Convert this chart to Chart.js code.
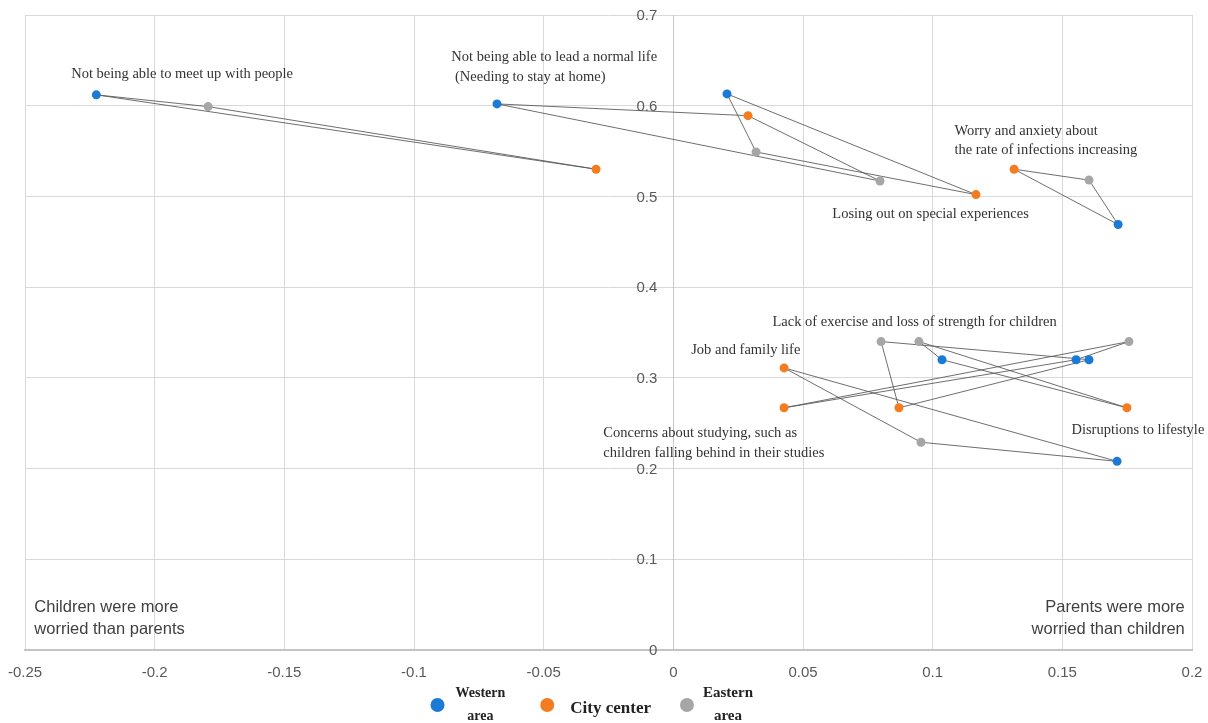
<!DOCTYPE html>
<html>
<head>
<meta charset="utf-8">
<script src="https://cdn.jsdelivr.net/npm/chart.js@4.4.0/dist/chart.umd.min.js"></script>
<style>
  html, body { margin: 0; padding: 0; background: #fff; }
  #wrap { width: 1208px; height: 723px; }
</style>
</head>
<body>
<div id="wrap"><canvas id="chart" width="1208" height="723"></canvas></div>
<script>
(function () {

  // one entry per worry item; each item is a triangle Western -> City -> Eastern
  var concerns = [
    'Not being able to meet up with people',
    'Not being able to lead a normal life',
    'Losing out on special experiences',
    'Worry and anxiety about the rate of infections increasing',
    'Lack of exercise and loss of strength for children',
    'Job and family life',
    'Concerns about studying',
    'Disruptions to lifestyle'
  ];
  var westernX = [-0.2225, -0.068, 0.0207, 0.1715, 0.1603, 0.1711, 0.1553, 0.1036];
  var westernY = [0.612, 0.602, 0.613, 0.469, 0.320, 0.208, 0.320, 0.320];
  var cityX = [-0.0298, 0.0288, 0.1167, 0.1314, 0.087, 0.0427, 0.0427, 0.1749];
  var cityY = [0.530, 0.589, 0.502, 0.530, 0.267, 0.311, 0.267, 0.267];
  var easternX = [-0.1794, 0.0797, 0.0319, 0.1603, 0.0801, 0.0955, 0.1757, 0.0947];
  var easternY = [0.599, 0.517, 0.549, 0.518, 0.340, 0.229, 0.340, 0.340];

  var areaNames = [['Western', 'area'], ['City center'], ['Eastern', 'area']];
  var areaColors = ['#1b7ad3', '#f47c20', '#a6a6a6'];

  var xTickLabels = ['-0.25', '-0.2', '-0.15', '-0.1', '-0.05', '0', '0.05', '0.1', '0.15', '0.2'];
  var yTickLabels = ['0', '0.1', '0.2', '0.3', '0.4', '0.5', '0.6', '0.7'];

  // text notes, anchored in data units (left edge, middle of first line)
  var notes = [
    { x: -0.2322, y: 0.635, lines: ['Not being able to meet up with people'] },
    { x: -0.0856, y: 0.653, lines: ['Not being able to lead a normal life', ' (Needing to stay at home)'] },
    { x: 0.1084, y: 0.572, lines: ['Worry and anxiety about', 'the rate of infections increasing'] },
    { x: 0.0613, y: 0.480, lines: ['Losing out on special experiences'] },
    { x: 0.0382, y: 0.361, lines: ['Lack of exercise and loss of strength for children'] },
    { x: 0.0069, y: 0.330, lines: ['Job and family life'] },
    { x: -0.0270, y: 0.239, lines: ['Concerns about studying, such as', 'children falling behind in their studies'] },
    { x: 0.1535, y: 0.2427, lines: ['Disruptions to lifestyle'] }
  ];
  var corners = [
    { x: -0.2464, y: 0.0465, align: 'left', lines: ['Children were more', 'worried than parents'] },
    { x: 0.1972, y: 0.0465, align: 'right', lines: ['Parents were more', 'worried than children'] }
  ];

  function pts(xs, ys) {
    return xs.map(function (x, i) { return { x: x, y: ys[i] }; });
  }

  var datasets = [];
  var areas = [pts(westernX, westernY), pts(cityX, cityY), pts(easternX, easternY)];

  areas.forEach(function (data, k) {
    datasets.push({
      label: areaNames[k].join(' '),
      data: data,
      showLine: false,
      pointRadius: 4.5,
      pointHoverRadius: 4.5,
      pointBackgroundColor: areaColors[k],
      pointBorderWidth: 0,
      backgroundColor: areaColors[k],
      order: 0
    });
  });

  concerns.forEach(function (name, i) {
    datasets.push({
      label: name,
      data: [areas[0][i], areas[1][i], areas[2][i], areas[0][i]],
      showLine: true,
      borderColor: 'rgba(85,85,85,0.85)',
      borderWidth: 1,
      pointRadius: 0,
      fill: false,
      order: 5
    });
  });

  var notesPlugin = {
    id: 'notes',
    afterDraw: function (chart) {
      var ctx = chart.ctx;
      var xs = chart.scales.x, ys = chart.scales.y;
      ctx.save();
      ctx.textBaseline = 'middle';

      // y tick labels beside the zero line
      var x0 = xs.getPixelForValue(0);
      ctx.fillStyle = '#595959';
      ctx.font = '15px "Liberation Sans", Arial, sans-serif';
      ctx.textAlign = 'right';
      ys.ticks.forEach(function (t, i) {
        ctx.fillText(yTickLabels[i], x0 - 16, ys.getPixelForValue(t.value) + 1);
      });

      ctx.fillStyle = '#333333';
      ctx.font = '14.5px "Liberation Serif", serif';
      ctx.textAlign = 'left';
      notes.forEach(function (n) {
        var px = xs.getPixelForValue(n.x), py = ys.getPixelForValue(n.y);
        n.lines.forEach(function (t, j) { ctx.fillText(t, px, py + j * 19.5); });
      });
      ctx.fillStyle = '#404040';
      ctx.font = '16.5px "Liberation Sans", Arial, sans-serif';
      corners.forEach(function (n) {
        var px = xs.getPixelForValue(n.x), py = ys.getPixelForValue(n.y);
        ctx.textAlign = n.align;
        n.lines.forEach(function (t, j) { ctx.fillText(t, px, py + j * 22); });
      });

      // legend
      var fonts = ['bold 14px "Liberation Serif", serif', 'bold 17px "Liberation Serif", serif', 'bold 15px "Liberation Serif", serif'];
      var textGap = [11, 16, 9];
      var itemGap = [35, 29, 0];
      ctx.textAlign = 'left';
      var x = (chart.chartArea.left + chart.chartArea.right) / 2 - 178;
      var cy = 705;
      areaNames.forEach(function (lines, k) {
        ctx.font = fonts[k];
        var w = Math.max.apply(null, lines.map(function (t) { return ctx.measureText(t).width; }));
        ctx.beginPath();
        ctx.fillStyle = areaColors[k];
        ctx.arc(x + 7, cy, 7, 0, Math.PI * 2);
        ctx.fill();
        ctx.fillStyle = '#222222';
        var tx = x + 14 + textGap[k];
        if (lines.length === 1) {
          ctx.fillText(lines[0], tx, cy + 4);
        } else {
          ctx.textAlign = 'center';
          ctx.fillText(lines[0], tx + w / 2, cy - 12);
          ctx.fillText(lines[1], tx + w / 2, cy + 11);
          ctx.textAlign = 'left';
        }
        x = tx + w + itemGap[k];
      });
      ctx.restore();
    }
  };

  new Chart(document.getElementById('chart'), {
    type: 'scatter',
    data: { datasets: datasets },
    options: {
      responsive: false,
      animation: false,
      devicePixelRatio: 1,
      layout: { padding: { left: 25, right: 16, top: 15, bottom: 38 } },
      plugins: {
        legend: { display: false },
        tooltip: { enabled: false }
      },
      scales: {
        x: {
          type: 'linear',
          position: 'bottom',
          min: -0.25,
          max: 0.2,
          afterFit: function (scale) {
            scale.height = 35;
            scale.paddingLeft = 0;
            scale.paddingRight = 0;
          },
          grid: { color: '#d9d9d9', drawTicks: false },
          border: { color: '#c4c4c4', width: 2 },
          ticks: {
            stepSize: 0.05,
            padding: 14,
            color: '#595959',
            font: { family: '"Liberation Sans", Arial, sans-serif', size: 15 },
            maxRotation: 0,
            autoSkip: false,
            callback: function (v, i) { return xTickLabels[i]; }
          }
        },
        y: {
          type: 'linear',
          position: { x: 0 },
          min: 0,
          max: 0.7,
          afterFit: function (scale) {
            scale.paddingTop = 0;
            scale.paddingBottom = 0;
          },
          grid: { color: '#d9d9d9', drawTicks: false },
          border: { color: '#c8c8c8', width: 1 },
          ticks: { stepSize: 0.1, display: false }
        }
      }
    },
    plugins: [notesPlugin]
  });
})();
</script>
</body>
</html>
